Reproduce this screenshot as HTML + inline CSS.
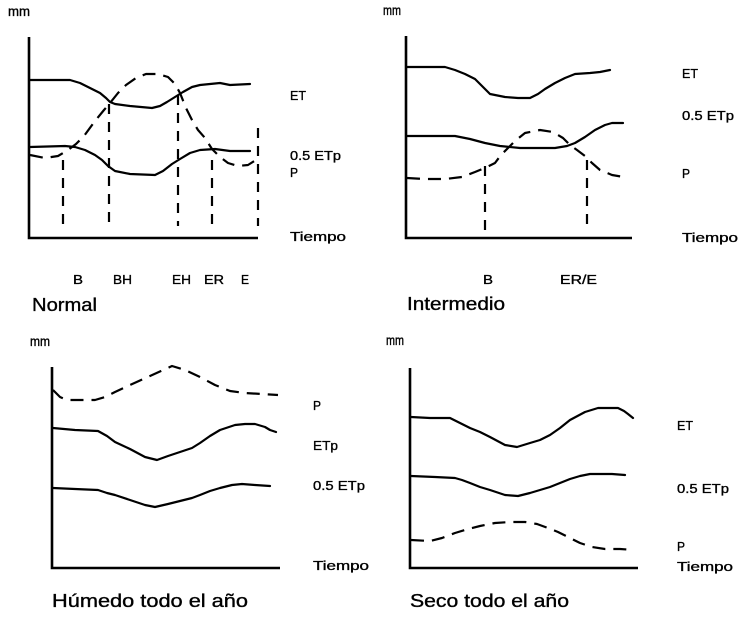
<!DOCTYPE html>
<html>
<head>
<meta charset="utf-8">
<style>
html,body{margin:0;padding:0;background:#fff;}
svg{display:block;}
text{font-family:"Liberation Sans",Arial,sans-serif;fill:#000;stroke:#000;stroke-width:0.35;}
.l{fill:none;stroke:#000;stroke-width:2.2;stroke-linejoin:round;stroke-linecap:round;}
.ax{fill:none;stroke:#000;stroke-width:2.6;}
.d{fill:none;stroke:#000;stroke-width:2.2;stroke-dasharray:13 8;stroke-linejoin:round;}
.v{fill:none;stroke:#000;stroke-width:2.2;stroke-dasharray:10 8;}
</style>
</head>
<body>
<svg width="749" height="617" viewBox="0 0 749 617" xmlns="http://www.w3.org/2000/svg">
<rect width="749" height="617" fill="#fff"/>

<!-- ===== Q1 Normal ===== -->
<text x="8" y="16" font-size="14" textLength="22" lengthAdjust="spacingAndGlyphs">mm</text>
<polyline class="ax" points="29,37 29,238 258,238"/>
<polyline class="l" points="30,80 70,80 80,83 90,88 100,93 106,98 110,102 115,104 130,106 152,108 160,106 167,102 175,97 183,92 192,87 200,85 220,83 230,85 250,84"/>
<polyline class="l" points="30,147 65,146 75,147 85,150 95,155 102,160 108,166 115,171 130,174 155,175 163,171 172,164 180,159 190,153 200,150 215,149 230,151 250,151"/>
<path class="d" d="M30,155 L45,158 L58,156 L68,150 L76,144 L84,136 L95,121 L104,110 L110,103 L118,93 L126,85 L136,78 L146,74 L158,74 L168,77 L175,84 L180,93 L186,108 L192,120 L198,130 L205,138 L212,149 L220,157 L228,163 L238,166 L248,165 L256,160"/>
<line class="v" x1="63" y1="160" x2="63" y2="231"/>
<line class="v" x1="109" y1="104" x2="109" y2="228"/>
<line class="v" x1="178" y1="95" x2="178" y2="226"/>
<line class="v" x1="212" y1="160" x2="212" y2="232"/>
<line class="v" x1="258" y1="128" x2="258" y2="226"/>
<text x="290" y="100" font-size="13" textLength="16" lengthAdjust="spacingAndGlyphs">ET</text>
<text x="290" y="160" font-size="13" textLength="51" lengthAdjust="spacingAndGlyphs">0.5 ETp</text>
<text x="290" y="177" font-size="13" textLength="8" lengthAdjust="spacingAndGlyphs">P</text>
<text x="290" y="241" font-size="13" textLength="56" lengthAdjust="spacingAndGlyphs">Tiempo</text>
<text x="73" y="284" font-size="13" textLength="10" lengthAdjust="spacingAndGlyphs">B</text>
<text x="113" y="284" font-size="13" textLength="19" lengthAdjust="spacingAndGlyphs">BH</text>
<text x="172" y="284" font-size="13" textLength="19" lengthAdjust="spacingAndGlyphs">EH</text>
<text x="204" y="284" font-size="13" textLength="20" lengthAdjust="spacingAndGlyphs">ER</text>
<text x="241" y="284" font-size="13" textLength="8" lengthAdjust="spacingAndGlyphs">E</text>
<text x="32" y="311" font-size="18" textLength="65" lengthAdjust="spacingAndGlyphs">Normal</text>

<!-- ===== Q2 Intermedio ===== -->
<text x="383" y="15" font-size="14" textLength="18" lengthAdjust="spacingAndGlyphs">mm</text>
<polyline class="ax" points="406,36 406,238 632,238"/>
<polyline class="l" points="407,67 445,67 455,70 465,74 475,79 483,87 490,94 505,97 518,98 530,98 538,94 545,89 555,83 565,78 575,74 590,73 600,72 610,70"/>
<polyline class="l" points="407,136 455,136 470,139 485,143 500,146 520,148 555,148 567,146 575,143 585,137 595,130 605,125 612,123 623,123"/>
<path class="d" d="M407,178 L425,179 L445,179 L462,177 L475,172 L487,167 L495,163 L501,155 L508,148 L515,141 L525,133 L540,130 L553,132 L563,138 L570,145 L577,150 L585,156 L592,163 L600,170 L612,175 L624,177"/>
<line class="v" x1="485" y1="166" x2="485" y2="238"/>
<line class="v" x1="587" y1="160" x2="587" y2="232"/>
<text x="682" y="78" font-size="13" textLength="16" lengthAdjust="spacingAndGlyphs">ET</text>
<text x="682" y="120" font-size="13" textLength="52" lengthAdjust="spacingAndGlyphs">0.5 ETp</text>
<text x="682" y="178" font-size="13" textLength="8" lengthAdjust="spacingAndGlyphs">P</text>
<text x="682" y="242" font-size="13" textLength="56" lengthAdjust="spacingAndGlyphs">Tiempo</text>
<text x="483" y="284" font-size="13" textLength="10" lengthAdjust="spacingAndGlyphs">B</text>
<text x="560" y="284" font-size="13" textLength="37" lengthAdjust="spacingAndGlyphs">ER/E</text>
<text x="407" y="310" font-size="18" textLength="98" lengthAdjust="spacingAndGlyphs">Intermedio</text>

<!-- ===== Q3 Húmedo ===== -->
<text x="30" y="346" font-size="14" textLength="20" lengthAdjust="spacingAndGlyphs">mm</text>
<polyline class="ax" points="52,367 52,568 280,568"/>
<path class="d" d="M53,390 L60,397 L67,400 L80,400 L95,400 L105,397 L115,392 L130,385 L150,376 L172,366 L185,370 L200,377 L215,385 L230,391 L245,393 L262,394 L278,395"/>
<polyline class="l" points="53,428 75,430 98,431 107,436 115,442 130,449 145,457 157,460 168,456 180,452 192,448 200,443 210,436 220,430 235,425 245,424 255,424 265,427 270,430 276,432"/>
<polyline class="l" points="53,488 75,489 98,490 107,493 115,495 130,500 145,505 155,507 168,504 180,501 192,498 200,495 210,491 220,488 232,485 242,484 255,485 270,486"/>
<text x="313" y="410" font-size="13" textLength="8" lengthAdjust="spacingAndGlyphs">P</text>
<text x="313" y="450" font-size="13" textLength="25" lengthAdjust="spacingAndGlyphs">ETp</text>
<text x="313" y="490" font-size="13" textLength="52" lengthAdjust="spacingAndGlyphs">0.5 ETp</text>
<text x="313" y="570" font-size="13" textLength="56" lengthAdjust="spacingAndGlyphs">Tiempo</text>
<text x="52" y="607" font-size="18" textLength="196" lengthAdjust="spacingAndGlyphs">Húmedo todo el año</text>

<!-- ===== Q4 Seco ===== -->
<text x="386" y="345" font-size="14" textLength="18" lengthAdjust="spacingAndGlyphs">mm</text>
<polyline class="ax" points="410,368 410,568 638,568"/>
<polyline class="l" points="411,417 430,418 450,418 460,423 470,428 480,432 490,437 505,445 517,447 530,443 540,440 550,435 560,428 570,420 585,412 598,408 610,408 618,408 624,411 628,414 633,418"/>
<polyline class="l" points="411,476 435,477 455,478 462,480 470,483 480,487 490,490 505,495 518,496 530,493 540,490 550,487 560,483 570,479 580,476 590,474 600,474 612,474 625,475"/>
<path class="d" d="M411,540 L430,541 L442,538 L455,533 L468,529 L480,526 L495,523 L510,522 L525,522 L537,524 L548,528 L558,532 L568,537 L580,543 L592,547 L605,549 L620,549 L634,550"/>
<text x="677" y="430" font-size="13" textLength="16" lengthAdjust="spacingAndGlyphs">ET</text>
<text x="677" y="493" font-size="13" textLength="52" lengthAdjust="spacingAndGlyphs">0.5 ETp</text>
<text x="677" y="551" font-size="13" textLength="8" lengthAdjust="spacingAndGlyphs">P</text>
<text x="677" y="571" font-size="13" textLength="56" lengthAdjust="spacingAndGlyphs">Tiempo</text>
<text x="410" y="607" font-size="18" textLength="159" lengthAdjust="spacingAndGlyphs">Seco todo el año</text>
</svg>
</body>
</html>
